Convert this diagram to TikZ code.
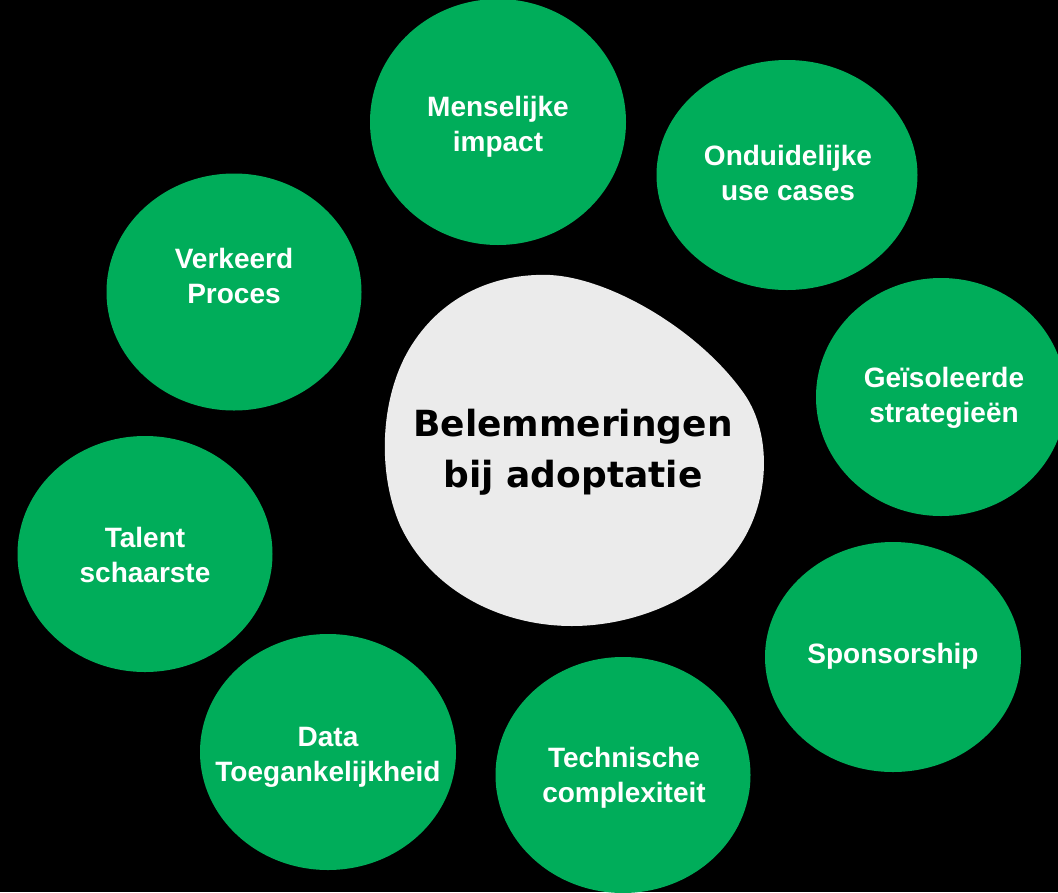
\documentclass[tikz,border=0pt]{standalone}
\usepackage{fontspec}
\setmainfont{Liberation Sans}
\newfontfamily\heavyfont{DejaVu Sans}
\usetikzlibrary{shapes.geometric}
\definecolor{bubgreen}{HTML}{00AD5A}
\definecolor{blobgray}{HTML}{EBEBEB}
\tikzset{
  bubble/.style={ellipse, fill=bubgreen, draw=none, inner sep=0pt},
  lbl/.style={text=white, font=\bfseries\fontsize{28}{35}\selectfont, align=center, inner sep=0pt},
  centerlbl/.style={text=black, font=\heavyfont\bfseries\fontsize{36}{51}\selectfont, align=center, inner sep=0pt}
}
\begin{document}
\begin{tikzpicture}[x=1pt,y=-1pt]
\useasboundingbox (0,0) rectangle (1058,892);
\fill[black] (0,0) rectangle (1058,892);
\clip (0,0) rectangle (1058,892);
% center blob
\fill[blobgray] (550,275)
  .. controls (610,278) and (700,330) .. (745,395)
  .. controls (772,435) and (770,500) .. (740,545)
  .. controls (705,598) and (635,626) .. (572,626)
  .. controls (500,626) and (430,590) .. (400,525)
  .. controls (376,470) and (380,390) .. (415,340)
  .. controls (448,292) and (500,273) .. (550,275) -- cycle;
\node[centerlbl] (ctext) at (573,452) {Belemmeringen\\bij adoptatie};
% bubbles
\node[bubble, minimum width=256pt, minimum height=246pt] (b1) at (498,122) {};
\node[bubble, minimum width=261pt, minimum height=230pt] (b2) at (787,175) {};
\node[bubble, minimum width=255pt, minimum height=237pt] (b3) at (234,292) {};
\node[bubble, minimum width=250pt, minimum height=238pt] (b4) at (941,397) {};
\node[bubble, minimum width=255pt, minimum height=236pt] (b5) at (145,554) {};
\node[bubble, minimum width=256pt, minimum height=230pt] (b6) at (893,657) {};
\node[bubble, minimum width=256pt, minimum height=236pt] (b7) at (328,752) {};
\node[bubble, minimum width=255pt, minimum height=236pt] (b8) at (623,775) {};
% labels
\node[lbl] (t1) at (498,127) {Menselijke\\impact};
\node[lbl] (t2) at (788,173) {Onduidelijke\\use cases};
\node[lbl] (t3) at (234,276) {Verkeerd\\Proces};
\node[lbl] (t4) at (944,398) {Geïsoleerde\\strategieën};
\node[lbl] (t5) at (145,555) {Talent\\schaarste};
\node[lbl] (t6) at (893,656) {Sponsorship};
\node[lbl] (t7) at (328,757) {Data\\Toegankelijkheid};
\node[lbl] (t8) at (624,778) {Technische\\complexiteit};
\end{tikzpicture}
\end{document}
